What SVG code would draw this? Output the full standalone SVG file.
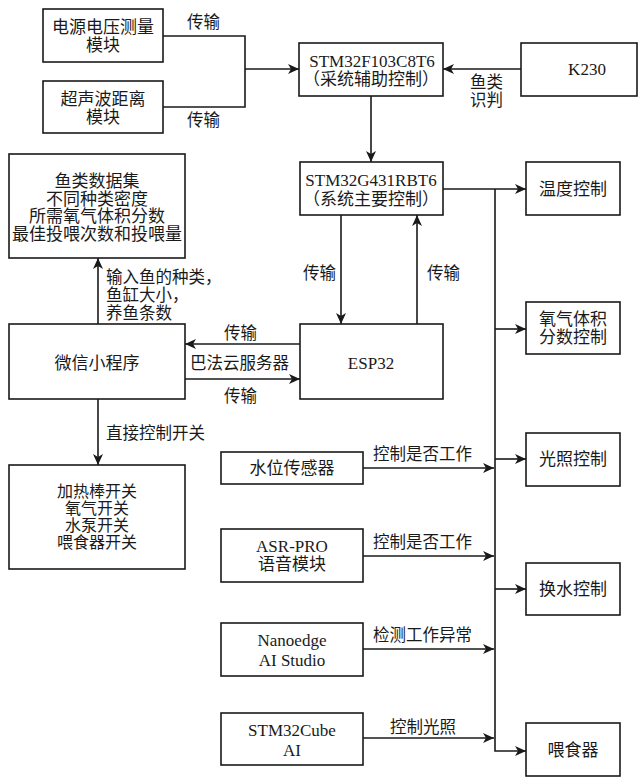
<svg xmlns="http://www.w3.org/2000/svg" width="639" height="777" viewBox="0 0 639 777">
<style>
.b{fill:#fff;stroke:#1a1a1a;stroke-width:1.6}
.t{font-family:"Liberation Serif","Noto Sans CJK SC",serif;font-size:17px;fill:#1a1a1a;text-anchor:middle}
.s{font-size:16px}
.l{font-family:"Liberation Serif","Noto Sans CJK SC",serif;font-size:16.5px;fill:#1a1a1a}
.c{fill:none;stroke:#1a1a1a;stroke-width:1.6}
</style>
<defs>
<marker id="a" markerWidth="12" markerHeight="10" refX="11" refY="5" orient="auto" markerUnits="userSpaceOnUse">
<path d="M0,0 L11,5 L0,10 L3,5 Z" fill="#1a1a1a"/>
</marker>
</defs>
<rect width="639" height="777" fill="#fff"/>
<g id="connectors">
<path class="c" d="M163,36 H245 V107 H163"/>
<path class="c" d="M245,69 H299" marker-end="url(#a)"/>
<path class="c" d="M521,69 H443" marker-end="url(#a)"/>
<path class="c" d="M371,96 V162" marker-end="url(#a)"/>
<path class="c" d="M443,189 H526" marker-end="url(#a)"/>
<path class="c" d="M495,189 V751 H526" marker-end="url(#a)"/>
<path class="c" d="M495,329 H526" marker-end="url(#a)"/>
<path class="c" d="M495,459 H526" marker-end="url(#a)"/>
<path class="c" d="M495,589 H526" marker-end="url(#a)"/>
<path class="c" d="M363,468 H494" marker-end="url(#a)"/>
<path class="c" d="M363,556 H494" marker-end="url(#a)"/>
<path class="c" d="M363,649 H494" marker-end="url(#a)"/>
<path class="c" d="M363,738 H494" marker-end="url(#a)"/>
<path class="c" d="M341,215 V324" marker-end="url(#a)"/>
<path class="c" d="M417,324 V215" marker-end="url(#a)"/>
<path class="c" d="M300,344 H185" marker-end="url(#a)"/>
<path class="c" d="M185,379 H300" marker-end="url(#a)"/>
<path class="c" d="M98,324 V258" marker-end="url(#a)"/>
<path class="c" d="M98,399 V465" marker-end="url(#a)"/>
<text class="l" x="187" y="28">传输</text>
<text class="l" x="187" y="126">传输</text>
<text class="l" x="470" y="88">鱼类</text>
<text class="l" x="470" y="106">识判</text>
<text class="l" x="303" y="279">传输</text>
<text class="l" x="427" y="279">传输</text>
<text class="l" x="224" y="339">传输</text>
<text class="l" x="190" y="369">巴法云服务器</text>
<text class="l" x="224" y="402">传输</text>
<text class="l" x="106" y="283">输入鱼的种类，</text>
<text class="l" x="106" y="301">鱼缸大小，</text>
<text class="l" x="106" y="319">养鱼条数</text>
<text class="l" x="106" y="439">直接控制开关</text>
<text class="l" x="373" y="460">控制是否工作</text>
<text class="l" x="373" y="548">控制是否工作</text>
<text class="l" x="373" y="641">检测工作异常</text>
<text class="l" x="390" y="733">控制光照</text>
</g>
<g id="n1"><rect class="b" x="43" y="9" width="120" height="53"/><text class="t" x="103" y="33">电源电压测量</text><text class="t" x="103" y="51">模块</text></g>
<g id="n2"><rect class="b" x="43" y="81" width="120" height="52"/><text class="t" x="103" y="105">超声波距离</text><text class="t" x="103" y="123">模块</text></g>
<g id="n3"><rect class="b" x="299" y="43" width="144" height="53"/><text class="t" x="372" y="67">STM32F103C8T6</text><text class="t" x="371" y="85">（采统辅助控制）</text></g>
<g id="n4"><rect class="b" x="521" y="43" width="116" height="53"/><text class="t" x="587" y="75">K230</text></g>
<g id="n5"><rect class="b" x="300" y="162" width="143" height="53"/><text class="t" x="371" y="186">STM32G431RBT6</text><text class="t" x="371" y="205">（系统主要控制）</text></g>
<g id="n6"><rect class="b" x="526" y="162" width="94" height="53"/><text class="t" x="573" y="195">温度控制</text></g>
<g id="n7"><rect class="b" x="9" y="154" width="176" height="104"/><text class="t" x="97" y="187">鱼类数据集</text><text class="t" x="97" y="204.5">不同种类密度</text><text class="t" x="97" y="222">所需氧气体积分数</text><text class="t" x="97" y="239.5">最佳投喂次数和投喂量</text></g>
<g id="n8"><rect class="b" x="526" y="302" width="94" height="52"/><text class="t" x="573" y="325">氧气体积</text><text class="t" x="573" y="343">分数控制</text></g>
<g id="n9"><rect class="b" x="9" y="324" width="176" height="75"/><text class="t" x="97" y="369">微信小程序</text></g>
<g id="n10"><rect class="b" x="300" y="324" width="143" height="75"/><text class="t" x="371" y="369">ESP32</text></g>
<g id="n11"><rect class="b" x="526" y="433" width="94" height="53"/><text class="t" x="573" y="465">光照控制</text></g>
<g id="n12"><rect class="b" x="221" y="452" width="142" height="32"/><text class="t" x="292" y="474">水位传感器</text></g>
<g id="n13"><rect class="b" x="9" y="465" width="176" height="104"/><text class="t s" x="97" y="497">加热棒开关</text><text class="t s" x="97" y="514">氧气开关</text><text class="t s" x="97" y="531">水泵开关</text><text class="t s" x="97" y="548">喂食器开关</text></g>
<g id="n14"><rect class="b" x="221" y="529" width="142" height="53"/><text class="t" x="292" y="552">ASR-PRO</text><text class="t" x="292" y="570">语音模块</text></g>
<g id="n15"><rect class="b" x="526" y="563" width="94" height="52"/><text class="t" x="573" y="595">换水控制</text></g>
<g id="n16"><rect class="b" x="221" y="623" width="142" height="53"/><text class="t" x="292" y="646">Nanoedge</text><text class="t" x="292" y="666">AI Studio</text></g>
<g id="n17"><rect class="b" x="221" y="713" width="142" height="52"/><text class="t" x="292" y="736">STM32Cube</text><text class="t" x="292" y="756">AI</text></g>
<g id="n18"><rect class="b" x="526" y="723" width="94" height="53"/><text class="t" x="573" y="756">喂食器</text></g>
</svg>
